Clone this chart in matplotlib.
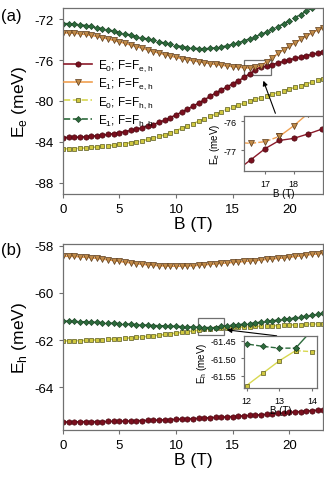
import numpy as np
import matplotlib
matplotlib.use('Agg')
from matplotlib import pyplot as plt
from matplotlib.patches import Rectangle

plt.rcParams['font.family'] = ['Liberation Sans', 'DejaVu Sans']
plt.rcParams['axes.unicode_minus'] = False

# magnetic field grid (T)
B = np.arange(0, 23.5, 0.5)

# (a) electron levels, meV
ee_E0_Feh = [-83.58, -83.57, -83.56, -83.53, -83.50, -83.45, -83.40, -83.34, -83.27, -83.19,
             -83.10, -83.00, -82.88, -82.76, -82.62, -82.47, -82.30, -82.10, -81.87, -81.62,
             -81.36, -81.09, -80.81, -80.51, -80.20, -79.88, -79.55, -79.22, -78.92, -78.62,
             -78.32, -78.02, -77.70, -77.33, -76.95, -76.67, -76.60, -76.45, -76.28, -76.13,
             -75.98, -75.84, -75.70, -75.57, -75.45, -75.32, -75.20]
ee_E1_Feh = [-73.33, -73.34, -73.37, -73.42, -73.49, -73.58, -73.68, -73.80, -73.93, -74.07,
             -74.21, -74.36, -74.52, -74.68, -74.84, -75.00, -75.16, -75.31, -75.46, -75.60,
             -75.73, -75.85, -75.96, -76.06, -76.16, -76.25, -76.34, -76.42, -76.50, -76.57,
             -76.63, -76.69, -76.74, -76.77, -76.71, -76.53, -76.17, -75.75, -75.35, -74.98,
             -74.63, -74.30, -73.97, -73.65, -73.33, -73.05, -72.85]
ee_E0_Fhh = [-84.68, -84.67, -84.66, -84.63, -84.60, -84.55, -84.50, -84.44, -84.38, -84.32,
             -84.25, -84.17, -84.08, -83.98, -83.88, -83.76, -83.62, -83.47, -83.30, -83.11,
             -82.90, -82.68, -82.45, -82.22, -81.98, -81.74, -81.50, -81.27, -81.05, -80.83,
             -80.62, -80.42, -80.22, -80.03, -79.85, -79.67, -79.50, -79.33, -79.17, -79.00,
             -78.84, -78.67, -78.50, -78.33, -78.15, -77.98, -77.80]
ee_E1_Fhh = [-72.42, -72.44, -72.48, -72.54, -72.62, -72.71, -72.82, -72.93, -73.05, -73.17,
             -73.30, -73.43, -73.56, -73.69, -73.82, -73.95, -74.08, -74.21, -74.34, -74.47,
             -74.58, -74.68, -74.77, -74.84, -74.88, -74.89, -74.86, -74.80, -74.71, -74.60,
             -74.46, -74.30, -74.12, -73.92, -73.71, -73.49, -73.26, -73.00, -72.72, -72.44,
             -72.15, -71.85, -71.54, -71.22, -70.90, -70.57, -70.23]

# (b) hole levels, meV
eh_E0_Feh = [-65.46, -65.46, -65.46, -65.455, -65.45, -65.45, -65.45, -65.445, -65.44, -65.435,
             -65.43, -65.425, -65.42, -65.41, -65.40, -65.395, -65.39, -65.38, -65.37, -65.36,
             -65.35, -65.34, -65.33, -65.32, -65.31, -65.295, -65.28, -65.27, -65.26, -65.245,
             -65.23, -65.215, -65.20, -65.185, -65.17, -65.155, -65.14, -65.12, -65.10, -65.08,
             -65.06, -65.04, -65.02, -65.00, -64.98, -64.96, -64.94]
eh_E1_Feh = [-58.45, -58.45, -58.46, -58.47, -58.49, -58.51, -58.54, -58.57, -58.60, -58.63,
             -58.67, -58.70, -58.73, -58.76, -58.79, -58.81, -58.83, -58.85, -58.86, -58.87,
             -58.87, -58.87, -58.86, -58.85, -58.83, -58.81, -58.79, -58.77, -58.75, -58.73,
             -58.71, -58.69, -58.67, -58.65, -58.63, -58.61, -58.58, -58.56, -58.54, -58.52,
             -58.49, -58.46, -58.43, -58.40, -58.37, -58.35, -58.32]
eh_E0_Fhh = [-62.03, -62.03, -62.02, -62.02, -62.01, -62.00, -61.99, -61.98, -61.97, -61.95,
             -61.94, -61.92, -61.90, -61.88, -61.86, -61.84, -61.81, -61.79, -61.76, -61.73,
             -61.70, -61.67, -61.64, -61.61, -61.577, -61.542, -61.507, -61.478, -61.481, -61.47,
             -61.46, -61.45, -61.44, -61.43, -61.42, -61.41, -61.40, -61.39, -61.38, -61.37,
             -61.36, -61.35, -61.34, -61.33, -61.32, -61.31, -61.30]
eh_E1_Fhh = [-61.20, -61.20, -61.21, -61.22, -61.23, -61.24, -61.25, -61.26, -61.28, -61.29,
             -61.30, -61.32, -61.33, -61.34, -61.36, -61.37, -61.38, -61.39, -61.40, -61.41,
             -61.42, -61.43, -61.44, -61.45, -61.459, -61.466, -61.471, -61.471, -61.42, -61.39,
             -61.37, -61.35, -61.32, -61.30, -61.27, -61.24, -61.21, -61.18, -61.15, -61.12,
             -61.09, -61.06, -61.02, -60.99, -60.95, -60.91, -60.87]

labels = [r'E$_\mathregular{0}$; F=F$_\mathregular{e,h}$',
          r'E$_\mathregular{1}$; F=F$_\mathregular{e,h}$',
          r'E$_\mathregular{0}$; F=F$_\mathregular{h,h}$',
          r'E$_\mathregular{1}$; F=F$_\mathregular{h,h}$']

# line colour, marker, face, edge, linestyle
styles = [dict(color='#8b1a2a', marker='o', mfc='#7a0f1e', mec='#4a0810', ls='-'),
          dict(color='#f0a050', marker='v', mfc='#c08a48', mec='#5a3a1a', ls='-'),
          dict(color='#d8d850', marker='s', mfc='#d0c840', mec='#5a5a20', ls='--'),
          dict(color='#2d6b3c', marker='D', mfc='#2d6b3c', mec='#1c4426', ls='--')]
msizes = [3.8, 3.9, 3.3, 3.1]

spine_col = '#707070'


def style_axes(ax, fs):
    for s in ax.spines.values():
        s.set_color(spine_col)
        s.set_linewidth(0.9)
    ax.tick_params(direction='out', color=spine_col, labelsize=fs, length=3, width=0.8)


fig = plt.figure(figsize=(3.24, 4.81), dpi=100)

ax1 = fig.add_axes([0.194, 0.5946, 0.804, 0.3867])
ax2 = fig.add_axes([0.194, 0.104, 0.804, 0.3867])

series_a = [ee_E0_Feh, ee_E1_Feh, ee_E0_Fhh, ee_E1_Fhh]
series_b = [eh_E0_Feh, eh_E1_Feh, eh_E0_Fhh, eh_E1_Fhh]

for ax, series in [(ax1, series_a), (ax2, series_b)]:
    for y, st, ms, lab in zip(series, styles, msizes, labels):
        ax.plot(B, y, lw=1.2, ms=ms, mew=0.5, label=lab, **st)
    ax.set_xlim(0, 23)
    ax.set_xticks([0, 5, 10, 15, 20])
    ax.set_xlabel('B (T)', fontsize=12.5, labelpad=1)
    style_axes(ax, 9.5)

ax1.set_ylim(-89.1, -70.9)
ax1.set_yticks([-88, -84, -80, -76, -72])
ax1.set_ylabel(r'E$_\mathregular{e}$ (meV)', fontsize=12.5, labelpad=4)
ax2.set_ylim(-65.8, -57.93)
ax2.set_yticks([-64, -62, -60, -58])
ax2.set_ylabel(r'E$_\mathregular{h}$ (meV)', fontsize=12.5, labelpad=4)

ax1.legend(loc='upper left', bbox_to_anchor=(0.0, 0.74), frameon=False, fontsize=8.5,
           handlelength=2.4, labelspacing=0.22, handletextpad=0.45, borderpad=0.1,
           borderaxespad=0)

fig.text(0.004, 0.965, '(a)', fontsize=12, va='center')
fig.text(0.004, 0.48, '(b)', fontsize=12, va='center')

# zoom boxes and arrows
ax1.add_patch(Rectangle((16.0, -77.46), 2.4, 1.46, fill=False, ec=spine_col, lw=0.9))
ax1.annotate('', xy=(17.62, -77.76), xytext=(18.85, -81.46),
             arrowprops=dict(arrowstyle='-|>', color='black', lw=0.8, mutation_scale=7))
ax2.add_patch(Rectangle((11.92, -61.80), 2.27, 0.75, fill=False, ec=spine_col, lw=0.9))
ax2.annotate('', xy=(14.23, -61.55), xytext=(19.12, -61.83),
             arrowprops=dict(arrowstyle='-|>', color='black', lw=0.8, mutation_scale=7))

# inset (a)
in1 = fig.add_axes([0.753, 0.642, 0.243, 0.114])
Ba = np.asarray(B)
red = np.asarray(ee_E0_Feh)
orng = np.asarray(ee_E1_Feh)
in1.plot(Ba, red, lw=1.0, ms=3.8, mew=0.5, **styles[0])
st = dict(styles[1])
st.pop('ls')
in1.plot(Ba[Ba <= 17.5], orng[Ba <= 17.5], ls='--', lw=1.0, ms=3.9, mew=0.5, **st)
in1.plot(Ba[Ba >= 17.5], orng[Ba >= 17.5], ls='-', lw=1.0, ms=3.9, mew=0.5, **st)
in1.set_xlim(16.25, 19.03)
in1.set_ylim(-77.73, -75.84)
in1.set_xticks([17, 18])
in1.set_yticks([-77, -76])
in1.set_xlabel('B (T)', fontsize=7, labelpad=0)
in1.set_ylabel(r'E$_\mathregular{e}$ (meV)', fontsize=7, labelpad=1)
style_axes(in1, 6.5)
in1.tick_params(length=2)

# inset (b)
in2 = fig.add_axes([0.753, 0.1906, 0.224, 0.108])
yel = np.asarray(eh_E0_Fhh)
grn = np.asarray(eh_E1_Fhh)
sty = dict(styles[2])
sty.pop('ls')
stg = dict(styles[3])
stg.pop('ls')
lo = Ba <= 13.5
hi = Ba >= 13.5
in2.plot(Ba[lo], yel[lo], ls='-', lw=1.0, ms=3.3, mew=0.5, **sty)
in2.plot(Ba[hi], yel[hi], ls='--', lw=1.0, ms=3.3, mew=0.5, **sty)
in2.plot(Ba[lo], grn[lo], ls='--', lw=1.0, ms=3.1, mew=0.5, **stg)
in2.plot(Ba[hi], grn[hi], ls='-', lw=1.0, ms=3.1, mew=0.5, **stg)
in2.set_xlim(11.92, 14.14)
in2.set_ylim(-61.585, -61.4376)
in2.set_xticks([12, 13, 14])
in2.set_yticks([-61.55, -61.50, -61.45])
in2.set_yticklabels(['-61.55', '-61.50', '-61.45'])
in2.set_xlabel('B (T)', fontsize=7, labelpad=0)
in2.set_ylabel(r'E$_\mathregular{h}$ (meV)', fontsize=7, labelpad=1)
style_axes(in2, 6.5)
in2.tick_params(length=2)

fig.savefig('out.png', dpi=100)
